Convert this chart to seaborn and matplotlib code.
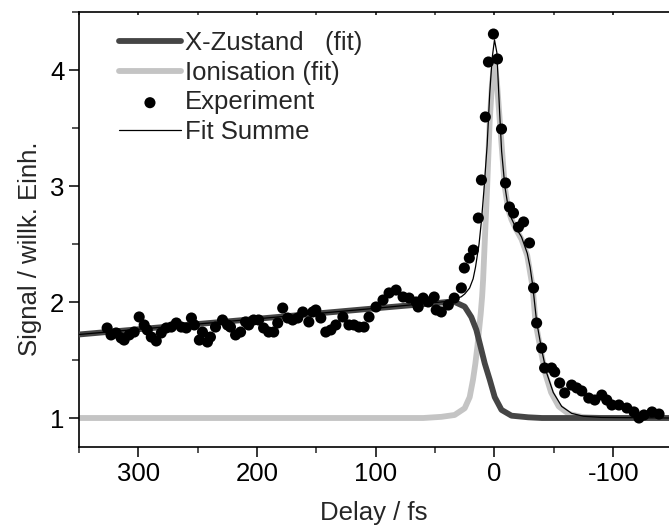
import numpy as np
import pandas as pd
import matplotlib
matplotlib.use("Agg")
import matplotlib.pyplot as plt
import seaborn as sns
from matplotlib.ticker import MultipleLocator

# ---------------- data ----------------
exp_delay = [326.3, 323.0, 318.7, 314.5, 312.0, 307.7, 303.5, 299.3, 295.1, 292.5,
             289.1, 284.9, 280.7, 276.5, 272.2, 268.0, 263.8, 259.6, 255.3, 252.8,
             248.6, 246.0, 241.8, 239.3, 235.0, 229.1, 224.9, 222.4, 218.1, 213.9,
             209.7, 207.1, 202.9, 198.7, 194.5, 190.2, 186.0, 182.6, 178.4, 174.2,
             170.0, 165.7, 161.5, 156.4, 153.0, 150.5, 146.3, 142.1, 137.8, 133.6,
             127.7, 122.6, 118.4, 114.2, 109.9, 105.7, 99.8, 93.9, 88.8, 82.9,
             77.0, 71.9, 66.0, 64.3, 60.1, 55.8, 50.8, 49.1, 44.8, 38.9,
             33.9, 27.9, 25.4, 21.2, 17.8, 13.6, 11.0, 7.7, 5.1, 0.9,
             -2.5, -5.9, -9.3, -12.6, -16.0, -20.2, -24.5, -29.5, -32.9, -35.5,
             -39.7, -42.2, -48.1, -50.7, -54.9, -59.1, -65.0, -69.3, -73.5, -79.4,
             -84.5, -90.4, -94.6, -98.9, -104.8, -111.5, -117.5, -121.7, -125.9, -132.7,
             -138.6]
exp_signal = [1.776, 1.716, 1.733, 1.690, 1.672, 1.716, 1.741, 1.871, 1.802, 1.759,
              1.698, 1.664, 1.733, 1.776, 1.784, 1.819, 1.784, 1.776, 1.862, 1.802,
              1.672, 1.741, 1.655, 1.698, 1.784, 1.845, 1.802, 1.784, 1.716, 1.741,
              1.828, 1.802, 1.845, 1.845, 1.776, 1.741, 1.741, 1.819, 1.948, 1.862,
              1.845, 1.862, 1.914, 1.828, 1.914, 1.931, 1.862, 1.741, 1.759, 1.802,
              1.871, 1.802, 1.802, 1.784, 1.784, 1.871, 1.957, 2.017, 2.078, 2.103,
              2.043, 2.034, 2.000, 1.957, 2.034, 2.000, 2.043, 1.931, 1.914, 1.974,
              2.034, 2.121, 2.293, 2.379, 2.448, 2.724, 3.052, 3.595, 4.069, 4.310,
              4.095, 3.491, 3.026, 2.819, 2.767, 2.646, 2.690, 2.509, 2.121, 1.819,
              1.603, 1.431, 1.431, 1.397, 1.302, 1.216, 1.284, 1.259, 1.233, 1.172,
              1.155, 1.198, 1.155, 1.112, 1.112, 1.086, 1.052, 1.000, 1.026, 1.052,
              1.034]

x_delay = [350, 300, 200, 100, 50, 40, 33.6, 25.1, 19.5, 15.3, 11.6, 8.2, 4.0,
           -0.2, -5.9, -14.3, -28.4, -40, -147]
x_signal = [1.72, 1.765, 1.855, 1.946, 1.99, 2.0, 2.0, 1.96, 1.87, 1.76, 1.61, 1.47, 1.33,
            1.18, 1.07, 1.02, 1.006, 1.0, 1.0]

ion_delay = [350, 60, 44.8, 33.6, 25.1, 20.9, 18.1, 16.1, 14.4, 13.0, 11.6, 10.4, 9.6,
             6.2, 4.0, 2.0, 0.0, -2.0, -4.4, -8.7, -11.5, -14.3, -18.0, -22.8, -27.6,
             -32.1, -34.6, -38.9, -42.6, -47.7, -54.1, -62.5, -73.5, -90, -147]
ion_signal = [1.0, 1.0, 1.01, 1.026, 1.084, 1.18, 1.33, 1.47, 1.615, 1.76, 1.90, 2.05, 2.19,
              2.99, 3.57, 3.9, 4.06, 3.9, 3.57, 2.99, 2.8, 2.71, 2.63, 2.54, 2.40,
              2.13, 1.82, 1.59, 1.39, 1.22, 1.10, 1.035, 1.01, 1.0, 1.0]

sum_delay = [350, 300, 200, 100, 50, 40, 33.6, 28, 25, 21, 18, 16, 13, 11, 9, 6.2, 4, 2,
             0, -2, -4.4, -6, -8.7, -11, -14.3, -18, -22.8, -27.6, -30, -32.1, -35.5,
             -39.7, -43.9, -49.5, -56.6, -65, -75, -90, -147]
sum_signal = [1.72, 1.765, 1.855, 1.946, 1.995, 2.005, 2.025, 2.045, 2.07, 2.12, 2.2, 2.3,
              2.5, 2.7, 2.95, 3.35, 3.8, 4.1, 4.26, 4.15, 3.62, 3.3, 3.0, 2.85, 2.72,
              2.64, 2.56, 2.42, 2.3, 2.15, 1.83, 1.59, 1.39, 1.22, 1.10, 1.04, 1.015,
              1.005, 1.0]

x_ticks = [300, 200, 100, 0, -100]
y_ticks = [1, 2, 3, 4]

# ---------------- plotting ----------------
sns.set_style("ticks")
plt.rcParams["font.family"] = ["Liberation Sans", "DejaVu Sans"]
FS = 18.5

fig = plt.figure(figsize=(6.69, 5.30), dpi=100)
ax = fig.add_axes([79 / 669, 1 - 447 / 530, 1 - 79 / 669, (447 - 12) / 530])

df_x = pd.DataFrame({"d": x_delay, "s": x_signal})
df_i = pd.DataFrame({"d": ion_delay, "s": ion_signal})
df_f = pd.DataFrame({"d": sum_delay, "s": sum_signal})
df_e = pd.DataFrame({"d": exp_delay, "s": exp_signal})

lab_x = "X-Zustand   (fit)"
sns.lineplot(data=df_i, x="d", y="s", ax=ax, sort=False, estimator=None,
             color="#c4c4c4", lw=4.2, zorder=2, label="Ionisation (fit)")
sns.lineplot(data=df_x, x="d", y="s", ax=ax, sort=False, estimator=None,
             color="#454545", lw=4.2, zorder=3, label=lab_x)
sns.scatterplot(data=df_e, x="d", y="s", ax=ax, color="black", s=64,
                edgecolor="none", zorder=4, label="Experiment")
sns.lineplot(data=df_f, x="d", y="s", ax=ax, sort=False, estimator=None,
             color="black", lw=0.9, zorder=5, label="Fit Summe")

ax.set_xlim(350, -147)
ax.set_ylim(0.75, 4.5)
ax.set_xticks(x_ticks)
ax.set_xticklabels([str(t) for t in x_ticks])
ax.set_yticks(y_ticks)
ax.set_yticklabels([str(t) for t in y_ticks])
ax.xaxis.set_minor_locator(MultipleLocator(50))
ax.yaxis.set_minor_locator(MultipleLocator(0.5))

ax.tick_params(axis="both", which="major", direction="out", length=7, width=1.1,
               labelsize=FS, color="black", labelcolor="black")
ax.tick_params(axis="x", which="minor", direction="out", length=4, width=1.1)
ax.tick_params(axis="y", which="minor", direction="out", length=5, width=1.1)
ax.tick_params(axis="x", which="both", top=True)
for t in ax.xaxis.get_major_ticks() + ax.xaxis.get_minor_ticks():
    t.tick2line.set_marker(matplotlib.lines.TICKDOWN)
    t.tick2line.set_markersize(2.5)

for side in ["left", "bottom", "top"]:
    ax.spines[side].set_visible(True)
    ax.spines[side].set_linewidth(1.2)
    ax.spines[side].set_color("black")
ax.spines["right"].set_visible(False)

ax.set_xlabel("Delay / fs", fontsize=FS, labelpad=11)
ax.set_ylabel("Signal / willk. Einh.", fontsize=FS, labelpad=5.5)
ax.yaxis.label.set_y(0.455)

handles, labels = ax.get_legend_handles_labels()
order = [lab_x, "Ionisation (fit)", "Experiment", "Fit Summe"]
hmap = dict(zip(labels, handles))
ax.legend([hmap[k] for k in order], order, loc="upper left",
          bbox_to_anchor=(0.068, 0.956), frameon=False, fontsize=FS,
          handlelength=2.4, handletextpad=0.15, labelspacing=0.22,
          borderpad=0, borderaxespad=0, scatterpoints=1)

fig.savefig("out.png", dpi=100)
